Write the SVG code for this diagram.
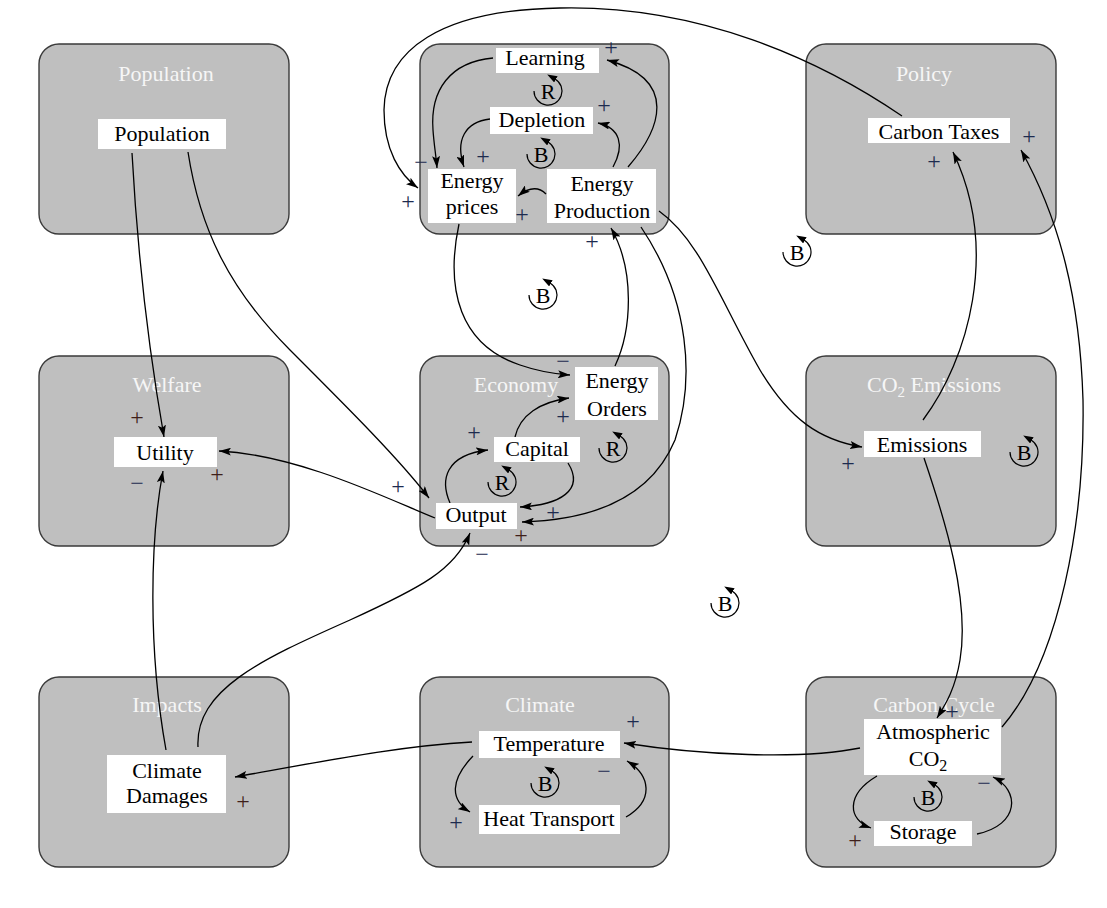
<svg xmlns="http://www.w3.org/2000/svg" width="1107" height="908" viewBox="0 0 1107 908">
  <style>
    .sector{fill:#bfbfbf;stroke:#3a3a3a;stroke-width:1.4}
    .title{font-family:"Liberation Serif","Times New Roman",serif;font-size:22px;fill:#f6f6f6;text-anchor:middle}
    .box{fill:#ffffff}
    .lbl{font-family:"Liberation Serif","Times New Roman",serif;font-size:22px;fill:#000;text-anchor:middle}
    .link{fill:none;stroke:#000;stroke-width:1.3;marker-end:url(#arrow)}
    .loop{fill:none;stroke:#000;stroke-width:1.2;marker-end:url(#loopHead)}
    .loopTxt{font-family:"Liberation Serif","Times New Roman",serif;font-size:22px;fill:#000;text-anchor:middle}
    .sgn{font-family:"Liberation Serif","Times New Roman",serif;font-size:24px;fill:#1d2b4f;text-anchor:middle}
    .sgn.br{fill:#3f1f1a}
  </style>
  <defs>
    <marker id="arrow" markerUnits="userSpaceOnUse" markerWidth="12" markerHeight="8" viewBox="0 0 12 8" refX="12" refY="4" orient="auto">
      <path d="M0,0 L12,4 L0,8 L2.5,4 z" fill="#000"/>
    </marker>
    <marker id="loopHead" markerUnits="userSpaceOnUse" markerWidth="10" markerHeight="7" viewBox="0 0 10 7" refX="1" refY="3.5" orient="auto">
      <path d="M0,0 L10,3.5 L0,7 z" fill="#000"/>
    </marker>
  </defs>

  <rect width="1107" height="908" fill="#ffffff"/>

  <!-- sectors -->
  <g id="sector-population"><rect class="sector" x="39" y="44" width="250" height="190" rx="20"/><text class="title" x="166" y="81">Population</text></g>
  <g id="sector-energy"><rect class="sector" x="420" y="44" width="249" height="190" rx="20"/></g>
  <g id="sector-policy"><rect class="sector" x="806" y="44" width="250" height="190" rx="20"/><text class="title" x="924" y="81">Policy</text></g>
  <g id="sector-welfare"><rect class="sector" x="39" y="356" width="250" height="190" rx="20"/><text class="title" x="167" y="392">Welfare</text></g>
  <g id="sector-economy"><rect class="sector" x="420" y="356" width="249" height="190" rx="20"/><text class="title" x="516" y="392">Economy</text></g>
  <g id="sector-emissions"><rect class="sector" x="806" y="356" width="250" height="190" rx="20"/><text class="title" x="934" y="392">CO<tspan font-size="15" dy="5">2</tspan><tspan dy="-5"> Emissions</tspan></text></g>
  <g id="sector-impacts"><rect class="sector" x="39" y="677" width="250" height="190" rx="20"/><text class="title" x="167" y="712">Impacts</text></g>
  <g id="sector-climate"><rect class="sector" x="420" y="677" width="249" height="190" rx="20"/><text class="title" x="540" y="712">Climate</text></g>
  <g id="sector-carbon"><rect class="sector" x="806" y="677" width="250" height="190" rx="20"/><text class="title" x="934" y="712">Carbon Cycle</text></g>

  <!-- causal links -->
  <g id="connectors">
    <path class="link" d="M132,153 Q140,300 164,437"/>
    <path class="link" d="M188,152 C200,230 230,290 290,350 S400,460 429,498"/>
    <path class="link" d="M435,518 C390,500 300,455 219,451"/>
    <path class="link" d="M166,750 C148,650 150,540 163,471"/>
    <path class="link" d="M198,747 C195,690 260,660 350,620 C420,588 455,570 470,533"/>
    <path class="link" d="M472,742 C400,746 330,760 235,777"/>
    <path class="link" d="M860,748 C800,760 700,755 624,743"/>
    <path class="link" d="M473,756 C450,780 450,800 470,812"/>
    <path class="link" d="M626,817 C655,800 650,775 627,761"/>
    <path class="link" d="M877,776 C845,795 848,820 871,828"/>
    <path class="link" d="M977,834 C1020,825 1020,790 993,777"/>
    <path class="link" d="M924,458 C945,520 970,600 960,660 C955,690 945,705 937,718"/>
    <path class="link" d="M1002,727 C1060,660 1085,520 1083,400 C1080,300 1060,220 1021,150"/>
    <path class="link" d="M923,420 C968,360 1000,250 953,152"/>
    <path class="link" d="M902,116 C820,60 700,5 560,8 C440,10 385,50 384,110 C384,150 400,175 418,188"/>
    <path class="link" d="M659,211 C700,240 720,300 760,370 C790,420 820,440 862,447"/>
    <path class="link" d="M641,227 C690,300 695,380 675,440 C650,500 590,520 522,522"/>
    <path class="link" d="M615,366 C632,330 635,270 611,228"/>
    <path class="link" d="M459,224 C445,290 460,345 520,365 C540,372 555,374 570,375"/>
    <path class="link" d="M515,437 C520,415 540,402 569,398"/>
    <path class="link" d="M450,503 C440,480 445,455 488,450"/>
    <path class="link" d="M568,463 C585,490 560,505 520,507"/>
    <path class="link" d="M546,194 C538,186 528,188 518,196"/>
    <path class="link" d="M493,58 C450,62 430,90 433,130 C434,145 436,155 437,168"/>
    <path class="link" d="M490,119 C465,122 455,140 464,167"/>
    <path class="link" d="M613,167 C625,145 620,128 598,123"/>
    <path class="link" d="M628,167 C660,130 680,80 607,60"/>
  </g>

  <!-- variables -->
  <g id="population"><rect class="box" x="98" y="119" width="128" height="30"/><text class="lbl" x="162" y="141">Population</text></g>
  <g id="utility"><rect class="box" x="114" y="437" width="103" height="30"/><text class="lbl" x="165" y="460">Utility</text></g>
  <g id="climate-damages"><rect class="box" x="107" y="755" width="119" height="58"/><text class="lbl" x="167" y="778">Climate</text><text class="lbl" x="167" y="803">Damages</text></g>
  <g id="learning"><rect class="box" x="496" y="48" width="103" height="25"/><text class="lbl" x="545" y="65">Learning</text></g>
  <g id="depletion"><rect class="box" x="490" y="107" width="103" height="27"/><text class="lbl" x="542" y="127">Depletion</text></g>
  <g id="energy-prices"><rect class="box" x="428" y="169" width="88" height="54"/><text class="lbl" x="472" y="188">Energy</text><text class="lbl" x="472" y="214">prices</text></g>
  <g id="energy-production"><rect class="box" x="547" y="169" width="109" height="54"/><text class="lbl" x="602" y="191">Energy</text><text class="lbl" x="602" y="218">Production</text></g>
  <g id="energy-orders"><rect class="box" x="575" y="367" width="83" height="53"/><text class="lbl" x="617" y="388">Energy</text><text class="lbl" x="617" y="416">Orders</text></g>
  <g id="capital"><rect class="box" x="494" y="437" width="86" height="25"/><text class="lbl" x="537" y="456">Capital</text></g>
  <g id="output"><rect class="box" x="436" y="503" width="81" height="26"/><text class="lbl" x="476" y="522">Output</text></g>
  <g id="emissions"><rect class="box" x="864" y="431" width="117" height="26"/><text class="lbl" x="922" y="452">Emissions</text></g>
  <g id="carbon-taxes"><rect class="box" x="868" y="118" width="142" height="25"/><text class="lbl" x="939" y="139">Carbon Taxes</text></g>
  <g id="temperature"><rect class="box" x="479" y="731" width="141" height="27"/><text class="lbl" x="549" y="751">Temperature</text></g>
  <g id="heat-transport"><rect class="box" x="479" y="805" width="141" height="29"/><text class="lbl" x="549" y="826">Heat Transport</text></g>
  <g id="atmospheric-co2"><rect class="box" x="864" y="719" width="137" height="56"/><text class="lbl" x="933" y="739">Atmospheric</text><text class="lbl" x="928" y="766">CO<tspan font-size="16" dy="5">2</tspan></text></g>
  <g id="storage"><rect class="box" x="874" y="821" width="98" height="25"/><text class="lbl" x="923" y="839">Storage</text></g>

  <!-- loop markers: arc from 9 o'clock round to 1 o'clock, head pointing back up-left -->
  <g id="loops">
    <path class="loop" d="M534,91 A14,14 0 1 0 555,78.9"/><text class="loopTxt" x="548" y="99">R</text>
    <path class="loop" d="M527,154 A14,14 0 1 0 548,141.9"/><text class="loopTxt" x="541" y="162">B</text>
    <path class="loop" d="M529,295 A14,14 0 1 0 550,282.9"/><text class="loopTxt" x="543" y="303">B</text>
    <path class="loop" d="M783,252 A14,14 0 1 0 804,239.9"/><text class="loopTxt" x="797" y="260">B</text>
    <path class="loop" d="M599,448 A14,14 0 1 0 620,435.9"/><text class="loopTxt" x="613" y="456">R</text>
    <path class="loop" d="M488,482 A14,14 0 1 0 509,469.9"/><text class="loopTxt" x="502" y="490">R</text>
    <path class="loop" d="M1010,452 A14,14 0 1 0 1031,439.9"/><text class="loopTxt" x="1024" y="460">B</text>
    <path class="loop" d="M711,603 A14,14 0 1 0 732,590.9"/><text class="loopTxt" x="725" y="611">B</text>
    <path class="loop" d="M531,783 A14,14 0 1 0 552,770.9"/><text class="loopTxt" x="545" y="791">B</text>
    <path class="loop" d="M914,797 A14,14 0 1 0 935,784.9"/><text class="loopTxt" x="928" y="805">B</text>
  </g>

  <!-- link polarities -->
  <g id="polarities">
    <text class="sgn" x="611" y="55">+</text>
    <text class="sgn" x="604" y="113">+</text>
    <text class="sgn" x="421" y="170">−</text>
    <text class="sgn" x="408" y="209">+</text>
    <text class="sgn" x="483" y="164">+</text>
    <text class="sgn" x="522" y="222">+</text>
    <text class="sgn" x="592" y="249">+</text>
    <text class="sgn" x="563" y="369">−</text>
    <text class="sgn" x="563" y="424">+</text>
    <text class="sgn" x="474" y="440">+</text>
    <text class="sgn" x="398" y="494">+</text>
    <text class="sgn" x="553" y="520">+</text>
    <text class="sgn br" x="521" y="543">+</text>
    <text class="sgn" x="482" y="562">−</text>
    <text class="sgn br" x="137" y="425">+</text>
    <text class="sgn" x="137" y="491">−</text>
    <text class="sgn br" x="217" y="482">+</text>
    <text class="sgn br" x="243" y="809">+</text>
    <text class="sgn" x="633" y="729">+</text>
    <text class="sgn" x="604" y="779">−</text>
    <text class="sgn" x="456" y="830">+</text>
    <text class="sgn" x="952" y="719">+</text>
    <text class="sgn" x="984" y="791">−</text>
    <text class="sgn br" x="855" y="848">+</text>
    <text class="sgn" x="848" y="471">+</text>
    <text class="sgn" x="934" y="169">+</text>
    <text class="sgn" x="1029" y="144">+</text>
  </g>
</svg>
